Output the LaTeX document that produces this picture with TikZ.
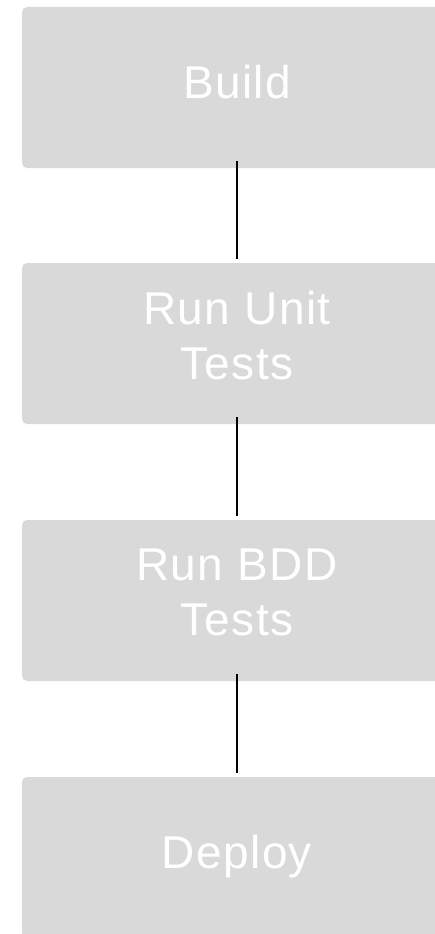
\documentclass[tikz,border=0pt]{standalone}
\usepackage{fontspec}
\setmainfont{Liberation Sans}[LetterSpace=3]
\usetikzlibrary{calc}
\definecolor{boxgray}{HTML}{D9D9D9}

\begin{document}
\begin{tikzpicture}[x=1pt,y=-1pt,
  stage/.style={rectangle,rounded corners=5pt,fill=boxgray,text=white,
    minimum width=430pt,minimum height=161pt,align=center,inner sep=0pt,
    font=\fontsize{46}{55}\selectfont,execute at begin node=\strut},
  link/.style={line width=2pt,black,shorten <=-7pt,shorten >=4pt}]
\useasboundingbox (0,0) rectangle (434,934);
% \draw[style=help lines,gray!50] (0,0) grid[step=50] (434,934);
\node[stage] (build) at (237,87.5) {Build} ;
\node[stage] (unit) at (237,343.5) {Run Unit\\\strut Tests} ;
\node[stage] (bdd) at (237,600.5) {Run BDD\\\strut Tests} ;
\node[stage] (deploy) at (237,857.5) {Deploy} ;
\draw[link] (build) -- (unit);
\draw[link] (unit) -- (bdd);
\draw[link] (bdd) -- (deploy);
\end{tikzpicture}
\end{document}
